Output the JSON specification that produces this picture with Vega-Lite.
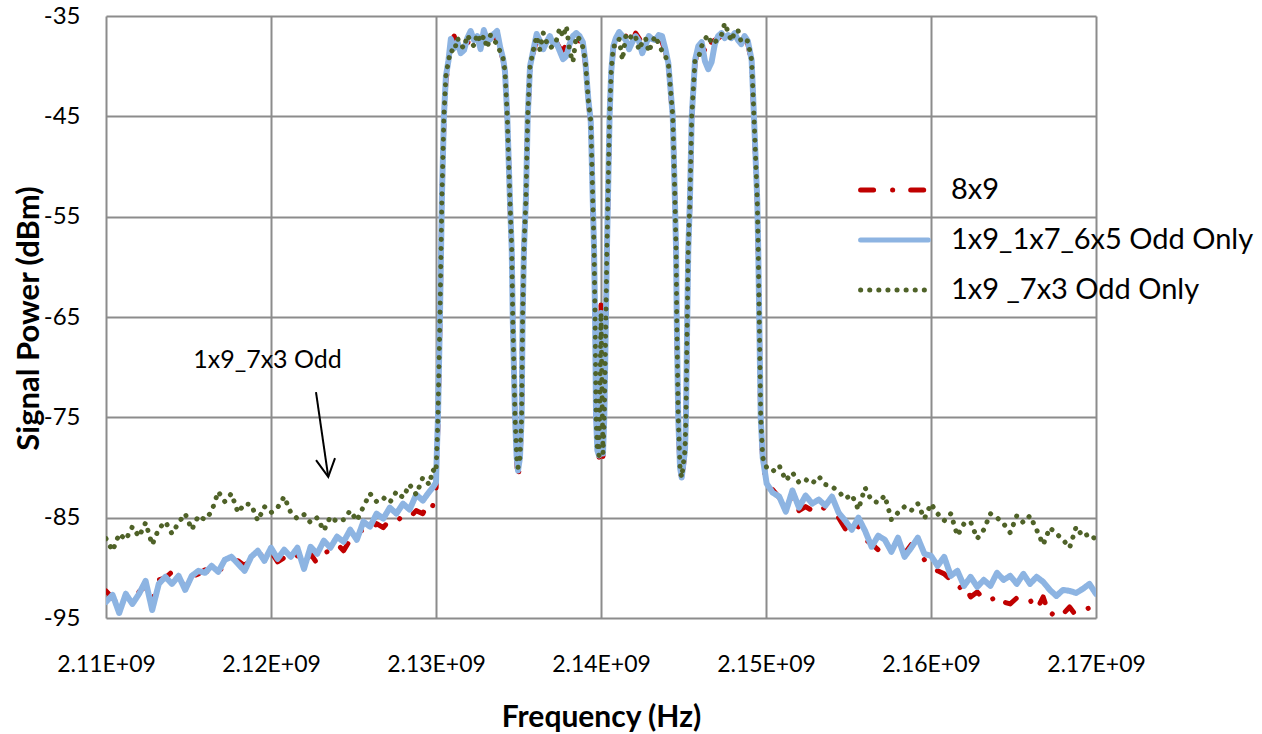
{
"$schema":"https://vega.github.io/schema/vega-lite/v6.json",
"width":990,"height":602,"autosize":"none",
"padding":{"left":106,"top":16,"right":166,"bottom":116},
"background":"white",
"config":{"view":{"stroke":null},"font":"Lato",
 "legend":{"symbolStrokeWidth":5,"symbolSize":4600,"labelFontSize":29,"labelFont":"Lato","labelColor":"black","labelLimit":0,"clipHeight":30,"rowPadding":20,"labelOffset":20,"padding":0,"symbolType":"stroke"}},
"datasets":{
"r":[
{"f":2.11e9,"p":-92.3},{"f":2.1104e9,"p":-93.0},{"f":2.1108e9,"p":-93.8},{"f":2.1112e9,"p":-92.9},{"f":2.1116e9,"p":-93.3},{"f":2.112e9,"p":-92.4},{"f":2.1124e9,"p":-91.8},{"f":2.1128e9,"p":-93.4},{"f":2.1132e9,"p":-91.2},{"f":2.1136e9,"p":-91.0},{"f":2.114e9,"p":-90.4},{"f":2.1144e9,"p":-91.2},{"f":2.1148e9,"p":-91.8},{"f":2.1152e9,"p":-90.9},{"f":2.1156e9,"p":-90.6},{"f":2.116e9,"p":-90.2},{"f":2.1164e9,"p":-90.9},{"f":2.1168e9,"p":-90.3},{"f":2.1172e9,"p":-89.9},{"f":2.1176e9,"p":-89.4},{"f":2.118e9,"p":-89.3},{"f":2.1184e9,"p":-89.8},{"f":2.1188e9,"p":-89.1},{"f":2.1192e9,"p":-88.5},{"f":2.1196e9,"p":-88.9},{"f":2.12e9,"p":-88.4},{"f":2.1204e9,"p":-89.4},{"f":2.1208e9,"p":-89.0},{"f":2.1212e9,"p":-89.5},{"f":2.1216e9,"p":-88.8},{"f":2.122e9,"p":-89.6},{"f":2.1224e9,"p":-88.6},{"f":2.1228e9,"p":-89.6},{"f":2.1232e9,"p":-88.6},{"f":2.1236e9,"p":-88.2},{"f":2.124e9,"p":-87.6},{"f":2.1244e9,"p":-88.3},{"f":2.1248e9,"p":-87.2},{"f":2.1252e9,"p":-86.5},{"f":2.1256e9,"p":-86.2},{"f":2.126e9,"p":-86.4},{"f":2.1264e9,"p":-85.6},{"f":2.1268e9,"p":-86.0},{"f":2.1272e9,"p":-85.2},{"f":2.1276e9,"p":-85.5},{"f":2.128e9,"p":-84.7},{"f":2.1284e9,"p":-85.0},{"f":2.1288e9,"p":-84.3},{"f":2.1292e9,"p":-84.6},{"f":2.1296e9,"p":-83.3},{"f":2.1298e9,"p":-83.8},{"f":2.13e9,"p":-82.5},
{"f":2.13006e9,"p":-78.5},{"f":2.13012e9,"p":-75.5},{"f":2.13024e9,"p":-65.5},{"f":2.13036e9,"p":-53.5},{"f":2.13048e9,"p":-45.5},{"f":2.1306e9,"p":-41.5},{"f":2.13075e9,"p":-39.7},
{"f":2.1309e9,"p":-37.8},{"f":2.1311e9,"p":-37.0},{"f":2.1313e9,"p":-38.0},{"f":2.1315e9,"p":-38.3},{"f":2.1317e9,"p":-37.5},{"f":2.1319e9,"p":-37.8},{"f":2.1321e9,"p":-36.9},{"f":2.1323e9,"p":-37.5},{"f":2.1325e9,"p":-37.3},{"f":2.1327e9,"p":-37.6},{"f":2.1329e9,"p":-37.1},{"f":2.1331e9,"p":-37.0},{"f":2.1333e9,"p":-37.8},{"f":2.1335e9,"p":-37.2},{"f":2.1337e9,"p":-37.3},{"f":2.1339e9,"p":-38.5},
{"f":2.13406e9,"p":-39.3},{"f":2.13418e9,"p":-40.6},{"f":2.13432e9,"p":-45.2},{"f":2.13448e9,"p":-53.5},{"f":2.13459e9,"p":-58.6},{"f":2.13465e9,"p":-65.3},{"f":2.13479e9,"p":-75.3},{"f":2.13489e9,"p":-79.4},{"f":2.13497e9,"p":-81.2},
{"f":2.13509e9,"p":-79.2},{"f":2.13519e9,"p":-75.2},{"f":2.13525e9,"p":-65.2},{"f":2.13533e9,"p":-58.5},{"f":2.13545e9,"p":-53.5},{"f":2.13556e9,"p":-45.2},{"f":2.1357e9,"p":-40.2},{"f":2.1359e9,"p":-38.6},
{"f":2.1361e9,"p":-37.4},{"f":2.1363e9,"p":-37.2},{"f":2.1365e9,"p":-37.9},{"f":2.1367e9,"p":-37.5},{"f":2.1369e9,"p":-37.3},{"f":2.1371e9,"p":-36.8},{"f":2.1373e9,"p":-37.6},{"f":2.1375e9,"p":-38.2},{"f":2.1377e9,"p":-38.4},{"f":2.1379e9,"p":-37.9},{"f":2.1381e9,"p":-37.6},{"f":2.1383e9,"p":-37.4},{"f":2.1385e9,"p":-37.2},{"f":2.1387e9,"p":-37.5},{"f":2.1389e9,"p":-38.0},
{"f":2.13905e9,"p":-39.7},{"f":2.13923e9,"p":-43.5},{"f":2.13938e9,"p":-45.7},{"f":2.1395e9,"p":-53.5},{"f":2.13958e9,"p":-58.5},{"f":2.13964e9,"p":-65.2},{"f":2.1397e9,"p":-75.2},{"f":2.13978e9,"p":-78.5},{"f":2.13988e9,"p":-79.0},
{"f":2.13994e9,"p":-71.5},{"f":2.14e9,"p":-63.8},{"f":2.14006e9,"p":-72.0},{"f":2.14012e9,"p":-78.9},
{"f":2.1402e9,"p":-75.2},{"f":2.1403e9,"p":-65.2},{"f":2.14036e9,"p":-58.5},{"f":2.14042e9,"p":-53.5},{"f":2.14052e9,"p":-45.2},{"f":2.14062e9,"p":-40.7},{"f":2.14075e9,"p":-38.2},
{"f":2.1409e9,"p":-37.5},{"f":2.1411e9,"p":-37.2},{"f":2.1413e9,"p":-37.4},{"f":2.1415e9,"p":-37.0},{"f":2.1417e9,"p":-37.9},{"f":2.1419e9,"p":-37.6},{"f":2.1421e9,"p":-36.7},{"f":2.1423e9,"p":-37.2},{"f":2.1425e9,"p":-37.8},{"f":2.1427e9,"p":-37.4},{"f":2.1429e9,"p":-37.6},{"f":2.1431e9,"p":-37.0},{"f":2.1433e9,"p":-36.8},{"f":2.1435e9,"p":-37.5},{"f":2.1437e9,"p":-37.6},{"f":2.1439e9,"p":-38.5},
{"f":2.14408e9,"p":-39.9},{"f":2.14435e9,"p":-45.2},{"f":2.14448e9,"p":-53.5},{"f":2.14455e9,"p":-58.5},{"f":2.14459e9,"p":-65.2},{"f":2.14468e9,"p":-75.2},{"f":2.14479e9,"p":-80.3},{"f":2.14489e9,"p":-81.3},
{"f":2.14509e9,"p":-78.5},{"f":2.14515e9,"p":-75.2},{"f":2.14523e9,"p":-65.2},{"f":2.14529e9,"p":-58.5},{"f":2.14539e9,"p":-53.5},{"f":2.1455e9,"p":-45.2},{"f":2.1457e9,"p":-39.6},
{"f":2.1459e9,"p":-38.2},{"f":2.1461e9,"p":-37.8},{"f":2.1463e9,"p":-38.5},{"f":2.1465e9,"p":-38.8},{"f":2.1467e9,"p":-37.6},{"f":2.1469e9,"p":-37.4},{"f":2.1471e9,"p":-37.2},{"f":2.1473e9,"p":-37.0},{"f":2.1475e9,"p":-36.8},{"f":2.1477e9,"p":-37.3},{"f":2.1479e9,"p":-37.5},{"f":2.1481e9,"p":-37.0},{"f":2.1483e9,"p":-37.6},{"f":2.1485e9,"p":-37.3},{"f":2.1487e9,"p":-37.2},{"f":2.1489e9,"p":-37.8},
{"f":2.14913e9,"p":-39.6},{"f":2.14927e9,"p":-45.2},{"f":2.14947e9,"p":-53.5},{"f":2.14953e9,"p":-58.5},{"f":2.14959e9,"p":-65.2},{"f":2.14968e9,"p":-75.2},{"f":2.1498e9,"p":-79.3},{"f":2.15004e9,"p":-82.0},
{"f":2.1504e9,"p":-82.2},{"f":2.1508e9,"p":-83.0},{"f":2.1512e9,"p":-83.8},{"f":2.1516e9,"p":-82.9},{"f":2.152e9,"p":-84.3},{"f":2.1524e9,"p":-83.9},{"f":2.1528e9,"p":-84.3},{"f":2.1532e9,"p":-83.6},{"f":2.1536e9,"p":-84.2},{"f":2.154e9,"p":-84.8},{"f":2.1544e9,"p":-85.0},{"f":2.1548e9,"p":-86.1},{"f":2.1552e9,"p":-86.7},{"f":2.1556e9,"p":-85.9},{"f":2.156e9,"p":-87.2},{"f":2.1564e9,"p":-87.6},{"f":2.1568e9,"p":-88.2},{"f":2.1572e9,"p":-87.4},{"f":2.1576e9,"p":-88.3},{"f":2.158e9,"p":-88.0},{"f":2.1584e9,"p":-88.6},{"f":2.1588e9,"p":-87.7},{"f":2.1592e9,"p":-88.5},{"f":2.1596e9,"p":-89.2},{"f":2.16e9,"p":-90.1},{"f":2.1604e9,"p":-90.3},{"f":2.1608e9,"p":-90.6},{"f":2.1612e9,"p":-91.2},{"f":2.1616e9,"p":-92.2},{"f":2.162e9,"p":-91.6},{"f":2.1624e9,"p":-92.9},{"f":2.1628e9,"p":-92.4},{"f":2.1632e9,"p":-93.1},{"f":2.1636e9,"p":-92.7},{"f":2.164e9,"p":-93.8},{"f":2.1644e9,"p":-93.4},{"f":2.1648e9,"p":-93.6},{"f":2.1652e9,"p":-93.0},{"f":2.1656e9,"p":-93.6},{"f":2.166e9,"p":-93.2},{"f":2.1664e9,"p":-94.2},{"f":2.1668e9,"p":-92.9},{"f":2.1672e9,"p":-94.9},{"f":2.1676e9,"p":-94.1},{"f":2.168e9,"p":-94.6},{"f":2.1684e9,"p":-93.9},{"f":2.1688e9,"p":-94.8},{"f":2.1692e9,"p":-94.2},{"f":2.1696e9,"p":-94.0},{"f":2.17e9,"p":-93.7}
],
"b":[
{"f":2.11e9,"p":-93.4},{"f":2.1104e9,"p":-92.7},{"f":2.1108e9,"p":-94.5},{"f":2.1112e9,"p":-92.6},{"f":2.1116e9,"p":-93.6},{"f":2.112e9,"p":-92.6},{"f":2.1124e9,"p":-91.3},{"f":2.1128e9,"p":-94.2},{"f":2.1132e9,"p":-91.6},{"f":2.1136e9,"p":-90.9},{"f":2.114e9,"p":-91.6},{"f":2.1144e9,"p":-90.8},{"f":2.1148e9,"p":-92.2},{"f":2.1152e9,"p":-90.8},{"f":2.1156e9,"p":-90.3},{"f":2.116e9,"p":-90.5},{"f":2.1164e9,"p":-89.8},{"f":2.1168e9,"p":-90.4},{"f":2.1172e9,"p":-89.2},{"f":2.1176e9,"p":-88.9},{"f":2.118e9,"p":-89.6},{"f":2.1184e9,"p":-90.3},{"f":2.1188e9,"p":-88.9},{"f":2.1192e9,"p":-88.3},{"f":2.1196e9,"p":-89.3},{"f":2.12e9,"p":-88.0},{"f":2.1204e9,"p":-89.1},{"f":2.1208e9,"p":-88.2},{"f":2.1212e9,"p":-88.9},{"f":2.1216e9,"p":-88.0},{"f":2.122e9,"p":-90.1},{"f":2.1224e9,"p":-87.9},{"f":2.1228e9,"p":-88.6},{"f":2.1232e9,"p":-87.3},{"f":2.1236e9,"p":-88.0},{"f":2.124e9,"p":-86.9},{"f":2.1244e9,"p":-87.4},{"f":2.1248e9,"p":-86.2},{"f":2.1252e9,"p":-87.2},{"f":2.1256e9,"p":-85.4},{"f":2.126e9,"p":-85.9},{"f":2.1264e9,"p":-84.6},{"f":2.1268e9,"p":-85.1},{"f":2.1272e9,"p":-84.0},{"f":2.1276e9,"p":-84.6},{"f":2.128e9,"p":-83.6},{"f":2.1284e9,"p":-84.2},{"f":2.1288e9,"p":-82.7},{"f":2.1292e9,"p":-83.3},{"f":2.1296e9,"p":-82.4},{"f":2.1298e9,"p":-82.0},{"f":2.13e9,"p":-81.5},
{"f":2.13006e9,"p":-78.0},{"f":2.13012e9,"p":-75.0},{"f":2.13024e9,"p":-65.0},{"f":2.13036e9,"p":-53.0},{"f":2.13048e9,"p":-45.0},{"f":2.1306e9,"p":-41.0},{"f":2.13075e9,"p":-39.5},
{"f":2.1309e9,"p":-37.3},{"f":2.1311e9,"p":-38.2},{"f":2.1313e9,"p":-37.6},{"f":2.1315e9,"p":-38.7},{"f":2.1317e9,"p":-38.4},{"f":2.1319e9,"p":-37.2},{"f":2.1321e9,"p":-36.5},{"f":2.1323e9,"p":-37.4},{"f":2.1325e9,"p":-37.0},{"f":2.1327e9,"p":-38.3},{"f":2.1329e9,"p":-36.4},{"f":2.1331e9,"p":-37.5},{"f":2.1333e9,"p":-37.3},{"f":2.1335e9,"p":-36.8},{"f":2.1337e9,"p":-36.5},{"f":2.1339e9,"p":-38.2},
{"f":2.13406e9,"p":-39.2},{"f":2.13418e9,"p":-40.5},{"f":2.13432e9,"p":-45.0},{"f":2.13448e9,"p":-53.3},{"f":2.13459e9,"p":-58.3},{"f":2.13465e9,"p":-65.0},{"f":2.13479e9,"p":-75.0},{"f":2.13489e9,"p":-79.0},{"f":2.13497e9,"p":-80.3},
{"f":2.13509e9,"p":-79.0},{"f":2.13519e9,"p":-75.0},{"f":2.13525e9,"p":-65.0},{"f":2.13533e9,"p":-58.3},{"f":2.13545e9,"p":-53.3},{"f":2.13556e9,"p":-45.0},{"f":2.1357e9,"p":-40.0},{"f":2.1359e9,"p":-38.4},
{"f":2.1361e9,"p":-36.8},{"f":2.1363e9,"p":-37.5},{"f":2.1365e9,"p":-38.3},{"f":2.1367e9,"p":-37.6},{"f":2.1369e9,"p":-37.0},{"f":2.1371e9,"p":-37.8},{"f":2.1373e9,"p":-37.7},{"f":2.1375e9,"p":-38.5},{"f":2.1377e9,"p":-39.3},{"f":2.1379e9,"p":-39.0},{"f":2.1381e9,"p":-37.8},{"f":2.1383e9,"p":-37.0},{"f":2.1385e9,"p":-36.7},{"f":2.1387e9,"p":-37.0},{"f":2.1389e9,"p":-37.6},
{"f":2.13905e9,"p":-39.5},{"f":2.13923e9,"p":-43.3},{"f":2.13938e9,"p":-45.5},{"f":2.1395e9,"p":-53.3},{"f":2.13958e9,"p":-58.3},{"f":2.13964e9,"p":-65.0},{"f":2.1397e9,"p":-75.0},{"f":2.13978e9,"p":-78.3},{"f":2.13988e9,"p":-78.8},
{"f":2.13994e9,"p":-72.0},{"f":2.14e9,"p":-64.6},{"f":2.14006e9,"p":-72.5},{"f":2.14012e9,"p":-78.6},
{"f":2.1402e9,"p":-75.0},{"f":2.1403e9,"p":-65.0},{"f":2.14036e9,"p":-58.3},{"f":2.14042e9,"p":-53.3},{"f":2.14052e9,"p":-45.0},{"f":2.14062e9,"p":-40.5},{"f":2.14075e9,"p":-38.0},
{"f":2.1409e9,"p":-37.2},{"f":2.1411e9,"p":-36.6},{"f":2.1413e9,"p":-37.0},{"f":2.1415e9,"p":-37.4},{"f":2.1417e9,"p":-38.3},{"f":2.1419e9,"p":-37.6},{"f":2.1421e9,"p":-37.0},{"f":2.1423e9,"p":-37.5},{"f":2.1425e9,"p":-38.7},{"f":2.1427e9,"p":-37.9},{"f":2.1429e9,"p":-37.0},{"f":2.1431e9,"p":-37.3},{"f":2.1433e9,"p":-37.4},{"f":2.1435e9,"p":-36.9},{"f":2.1437e9,"p":-37.0},{"f":2.1439e9,"p":-38.3},
{"f":2.14408e9,"p":-39.7},{"f":2.14435e9,"p":-45.0},{"f":2.14448e9,"p":-53.3},{"f":2.14455e9,"p":-58.3},{"f":2.14459e9,"p":-65.0},{"f":2.14468e9,"p":-75.0},{"f":2.14479e9,"p":-80.0},{"f":2.14489e9,"p":-81.0},
{"f":2.14509e9,"p":-78.3},{"f":2.14515e9,"p":-75.0},{"f":2.14523e9,"p":-65.0},{"f":2.14529e9,"p":-58.3},{"f":2.14539e9,"p":-53.3},{"f":2.1455e9,"p":-45.0},{"f":2.1457e9,"p":-39.4},
{"f":2.1459e9,"p":-38.0},{"f":2.1461e9,"p":-37.6},{"f":2.1463e9,"p":-39.5},{"f":2.1465e9,"p":-40.3},{"f":2.1467e9,"p":-39.6},{"f":2.1469e9,"p":-37.8},{"f":2.1471e9,"p":-37.0},{"f":2.1473e9,"p":-36.7},{"f":2.1475e9,"p":-37.2},{"f":2.1477e9,"p":-36.9},{"f":2.1479e9,"p":-37.2},{"f":2.1481e9,"p":-36.7},{"f":2.1483e9,"p":-37.4},{"f":2.1485e9,"p":-37.8},{"f":2.1487e9,"p":-37.0},{"f":2.1489e9,"p":-37.5},
{"f":2.14913e9,"p":-39.4},{"f":2.14927e9,"p":-45.0},{"f":2.14947e9,"p":-53.3},{"f":2.14953e9,"p":-58.3},{"f":2.14959e9,"p":-65.0},{"f":2.14968e9,"p":-75.0},{"f":2.1498e9,"p":-79.0},{"f":2.15004e9,"p":-81.6},
{"f":2.1504e9,"p":-82.5},{"f":2.1508e9,"p":-82.9},{"f":2.1512e9,"p":-84.4},{"f":2.1516e9,"p":-82.3},{"f":2.152e9,"p":-84.0},{"f":2.1524e9,"p":-82.8},{"f":2.1528e9,"p":-83.6},{"f":2.1532e9,"p":-83.2},{"f":2.1536e9,"p":-83.8},{"f":2.154e9,"p":-82.9},{"f":2.1544e9,"p":-84.5},{"f":2.1548e9,"p":-85.3},{"f":2.1552e9,"p":-86.2},{"f":2.1556e9,"p":-85.0},{"f":2.156e9,"p":-86.3},{"f":2.1564e9,"p":-87.9},{"f":2.1568e9,"p":-86.8},{"f":2.1572e9,"p":-87.2},{"f":2.1576e9,"p":-88.4},{"f":2.158e9,"p":-87.0},{"f":2.1584e9,"p":-88.9},{"f":2.1588e9,"p":-88.0},{"f":2.1592e9,"p":-87.0},{"f":2.1596e9,"p":-88.6},{"f":2.16e9,"p":-88.8},{"f":2.1604e9,"p":-89.8},{"f":2.1608e9,"p":-88.9},{"f":2.1612e9,"p":-90.8},{"f":2.1616e9,"p":-90.3},{"f":2.162e9,"p":-91.8},{"f":2.1624e9,"p":-90.9},{"f":2.1628e9,"p":-91.9},{"f":2.1632e9,"p":-91.2},{"f":2.1636e9,"p":-91.8},{"f":2.164e9,"p":-90.5},{"f":2.1644e9,"p":-91.2},{"f":2.1648e9,"p":-90.8},{"f":2.1652e9,"p":-91.6},{"f":2.1656e9,"p":-90.6},{"f":2.166e9,"p":-91.6},{"f":2.1664e9,"p":-90.9},{"f":2.1668e9,"p":-91.4},{"f":2.1672e9,"p":-92.2},{"f":2.1676e9,"p":-92.8},{"f":2.168e9,"p":-92.2},{"f":2.1684e9,"p":-92.3},{"f":2.1688e9,"p":-92.5},{"f":2.1692e9,"p":-92.1},{"f":2.1696e9,"p":-91.6},{"f":2.17e9,"p":-92.6}
],
"g":[
{"f":2.11e9,"p":-87.1},{"f":2.1104e9,"p":-88.3},{"f":2.1108e9,"p":-86.6},{"f":2.1112e9,"p":-87.2},{"f":2.1116e9,"p":-85.9},{"f":2.112e9,"p":-86.9},{"f":2.1124e9,"p":-85.5},{"f":2.1128e9,"p":-87.7},{"f":2.1132e9,"p":-86.1},{"f":2.1136e9,"p":-85.4},{"f":2.114e9,"p":-86.6},{"f":2.1144e9,"p":-85.5},{"f":2.1148e9,"p":-84.6},{"f":2.1152e9,"p":-86.2},{"f":2.1156e9,"p":-84.8},{"f":2.116e9,"p":-85.2},{"f":2.1164e9,"p":-84.4},{"f":2.1168e9,"p":-82.4},{"f":2.1172e9,"p":-83.4},{"f":2.1176e9,"p":-82.6},{"f":2.118e9,"p":-84.5},{"f":2.1184e9,"p":-83.6},{"f":2.1188e9,"p":-83.7},{"f":2.1192e9,"p":-85.3},{"f":2.1196e9,"p":-83.9},{"f":2.12e9,"p":-84.5},{"f":2.1204e9,"p":-84.0},{"f":2.1208e9,"p":-82.9},{"f":2.1212e9,"p":-84.5},{"f":2.1216e9,"p":-85.1},{"f":2.122e9,"p":-84.7},{"f":2.1224e9,"p":-85.5},{"f":2.1228e9,"p":-85.0},{"f":2.1232e9,"p":-86.3},{"f":2.1236e9,"p":-84.9},{"f":2.124e9,"p":-85.4},{"f":2.1244e9,"p":-85.2},{"f":2.1248e9,"p":-84.3},{"f":2.1252e9,"p":-85.3},{"f":2.1256e9,"p":-83.9},{"f":2.126e9,"p":-82.6},{"f":2.1264e9,"p":-83.4},{"f":2.1268e9,"p":-83.0},{"f":2.1272e9,"p":-83.5},{"f":2.1276e9,"p":-82.4},{"f":2.128e9,"p":-83.0},{"f":2.1284e9,"p":-81.7},{"f":2.1288e9,"p":-82.7},{"f":2.1292e9,"p":-81.0},{"f":2.1296e9,"p":-81.7},{"f":2.1298e9,"p":-80.2},{"f":2.13e9,"p":-80.5},
{"f":2.13006e9,"p":-78.0},{"f":2.13012e9,"p":-75.0},{"f":2.13024e9,"p":-65.0},{"f":2.13036e9,"p":-53.0},{"f":2.13048e9,"p":-45.0},{"f":2.1306e9,"p":-41.0},{"f":2.13075e9,"p":-39.5},
{"f":2.1309e9,"p":-38.4},{"f":2.1311e9,"p":-38.6},{"f":2.1313e9,"p":-37.2},{"f":2.1315e9,"p":-37.9},{"f":2.1317e9,"p":-38.2},{"f":2.1319e9,"p":-36.9},{"f":2.1321e9,"p":-37.5},{"f":2.1323e9,"p":-38.0},{"f":2.1325e9,"p":-36.8},{"f":2.1327e9,"p":-37.6},{"f":2.1329e9,"p":-37.0},{"f":2.1331e9,"p":-38.2},{"f":2.1333e9,"p":-36.9},{"f":2.1335e9,"p":-37.4},{"f":2.1337e9,"p":-37.8},{"f":2.1339e9,"p":-38.6},
{"f":2.13406e9,"p":-39.2},{"f":2.13418e9,"p":-40.5},{"f":2.13432e9,"p":-45.0},{"f":2.13448e9,"p":-53.3},{"f":2.13459e9,"p":-58.3},{"f":2.13465e9,"p":-65.0},{"f":2.13479e9,"p":-75.0},{"f":2.13489e9,"p":-79.0},{"f":2.13497e9,"p":-80.0},
{"f":2.13509e9,"p":-79.0},{"f":2.13519e9,"p":-75.0},{"f":2.13525e9,"p":-65.0},{"f":2.13533e9,"p":-58.3},{"f":2.13545e9,"p":-53.3},{"f":2.13556e9,"p":-45.0},{"f":2.1357e9,"p":-40.0},{"f":2.1359e9,"p":-38.4},
{"f":2.1361e9,"p":-37.0},{"f":2.1363e9,"p":-38.4},{"f":2.1365e9,"p":-36.7},{"f":2.1367e9,"p":-37.6},{"f":2.1369e9,"p":-38.2},{"f":2.1371e9,"p":-38.0},{"f":2.1373e9,"p":-37.4},{"f":2.1375e9,"p":-36.2},{"f":2.1377e9,"p":-37.1},{"f":2.1379e9,"p":-36.0},{"f":2.1381e9,"p":-38.5},{"f":2.1383e9,"p":-39.6},{"f":2.1385e9,"p":-37.0},{"f":2.1387e9,"p":-37.3},{"f":2.1389e9,"p":-38.1},
{"f":2.13905e9,"p":-39.5},{"f":2.13923e9,"p":-43.3},{"f":2.13938e9,"p":-45.5},{"f":2.1395e9,"p":-53.3},{"f":2.13958e9,"p":-58.3},{"f":2.13964e9,"p":-65.0},{"f":2.1397e9,"p":-75.0},{"f":2.13978e9,"p":-78.3},{"f":2.13988e9,"p":-78.8},
{"f":2.13994e9,"p":-72.0},{"f":2.14e9,"p":-64.6},{"f":2.14006e9,"p":-72.5},{"f":2.14012e9,"p":-78.6},
{"f":2.1402e9,"p":-75.0},{"f":2.1403e9,"p":-65.0},{"f":2.14036e9,"p":-58.3},{"f":2.14042e9,"p":-53.3},{"f":2.14052e9,"p":-45.0},{"f":2.14062e9,"p":-40.5},{"f":2.14075e9,"p":-38.0},
{"f":2.1409e9,"p":-38.0},{"f":2.1411e9,"p":-37.3},{"f":2.1413e9,"p":-39.4},{"f":2.1415e9,"p":-37.0},{"f":2.1417e9,"p":-37.4},{"f":2.1419e9,"p":-36.8},{"f":2.1421e9,"p":-37.1},{"f":2.1423e9,"p":-38.4},{"f":2.1425e9,"p":-37.6},{"f":2.1427e9,"p":-37.2},{"f":2.1429e9,"p":-38.6},{"f":2.1431e9,"p":-37.6},{"f":2.1433e9,"p":-37.0},{"f":2.1435e9,"p":-37.8},{"f":2.1437e9,"p":-38.5},{"f":2.1439e9,"p":-39.0},
{"f":2.14408e9,"p":-39.7},{"f":2.14435e9,"p":-45.0},{"f":2.14448e9,"p":-53.3},{"f":2.14455e9,"p":-58.3},{"f":2.14459e9,"p":-65.0},{"f":2.14468e9,"p":-75.0},{"f":2.14479e9,"p":-80.0},{"f":2.14489e9,"p":-81.0},
{"f":2.14509e9,"p":-78.3},{"f":2.14515e9,"p":-75.0},{"f":2.14523e9,"p":-65.0},{"f":2.14529e9,"p":-58.3},{"f":2.14539e9,"p":-53.3},{"f":2.1455e9,"p":-45.0},{"f":2.1457e9,"p":-39.4},
{"f":2.1459e9,"p":-39.2},{"f":2.1461e9,"p":-38.0},{"f":2.1463e9,"p":-37.3},{"f":2.1465e9,"p":-36.9},{"f":2.1467e9,"p":-37.8},{"f":2.1469e9,"p":-37.6},{"f":2.1471e9,"p":-37.3},{"f":2.1473e9,"p":-36.9},{"f":2.1475e9,"p":-35.7},{"f":2.1477e9,"p":-36.6},{"f":2.1479e9,"p":-37.5},{"f":2.1481e9,"p":-36.6},{"f":2.1483e9,"p":-36.4},{"f":2.1485e9,"p":-37.6},{"f":2.1487e9,"p":-37.4},{"f":2.1489e9,"p":-37.5},
{"f":2.14913e9,"p":-39.4},{"f":2.14927e9,"p":-45.0},{"f":2.14947e9,"p":-53.3},{"f":2.14953e9,"p":-58.3},{"f":2.14959e9,"p":-65.0},{"f":2.14968e9,"p":-75.0},{"f":2.1498e9,"p":-79.0},{"f":2.15004e9,"p":-80.0},
{"f":2.1504e9,"p":-80.4},{"f":2.1508e9,"p":-79.8},{"f":2.1512e9,"p":-81.3},{"f":2.1516e9,"p":-80.5},{"f":2.152e9,"p":-81.5},{"f":2.1524e9,"p":-81.2},{"f":2.1528e9,"p":-81.6},{"f":2.1532e9,"p":-80.9},{"f":2.1536e9,"p":-81.7},{"f":2.154e9,"p":-81.9},{"f":2.1544e9,"p":-82.4},{"f":2.1548e9,"p":-83.1},{"f":2.1552e9,"p":-82.7},{"f":2.1556e9,"p":-84.2},{"f":2.156e9,"p":-82.0},{"f":2.1564e9,"p":-83.3},{"f":2.1568e9,"p":-83.5},{"f":2.1572e9,"p":-82.8},{"f":2.1576e9,"p":-85.2},{"f":2.158e9,"p":-84.5},{"f":2.1584e9,"p":-83.9},{"f":2.1588e9,"p":-84.3},{"f":2.1592e9,"p":-83.6},{"f":2.1596e9,"p":-85.1},{"f":2.16e9,"p":-83.6},{"f":2.1604e9,"p":-84.6},{"f":2.1608e9,"p":-85.3},{"f":2.1612e9,"p":-84.6},{"f":2.1616e9,"p":-86.8},{"f":2.162e9,"p":-85.6},{"f":2.1624e9,"p":-85.4},{"f":2.1628e9,"p":-87.1},{"f":2.1632e9,"p":-86.2},{"f":2.1636e9,"p":-84.6},{"f":2.164e9,"p":-85.0},{"f":2.1644e9,"p":-85.6},{"f":2.1648e9,"p":-86.5},{"f":2.1652e9,"p":-84.8},{"f":2.1656e9,"p":-85.5},{"f":2.166e9,"p":-84.8},{"f":2.1664e9,"p":-86.2},{"f":2.1668e9,"p":-87.7},{"f":2.1672e9,"p":-86.0},{"f":2.1676e9,"p":-86.6},{"f":2.168e9,"p":-87.2},{"f":2.1684e9,"p":-88.0},{"f":2.1688e9,"p":-85.9},{"f":2.1692e9,"p":-86.9},{"f":2.1696e9,"p":-86.6},{"f":2.17e9,"p":-87.2}
],
"note":[{"f":2.11979e9,"p":-69.3,"t":"1x9_7x3 Odd"}],
"arrow":[{"f":2.122727e9,"p":-72.49,"f2":2.12347e9,"p2":-80.93}],
"head":[{"f":2.12273e9,"p":-79.27},{"f":2.12347e9,"p":-80.93},{"f":2.12388e9,"p":-79.07}]
},
"encoding":{
 "x":{"field":"f","type":"quantitative",
  "scale":{"domain":[2.11e9,2.17e9],"nice":false,"zero":false},
  "axis":{"values":[2.11e9,2.12e9,2.13e9,2.14e9,2.15e9,2.16e9,2.17e9],
   "labelExpr":"format(datum.value/1e9,'.2f')+'E+09'",
   "labelFontSize":23,"labelFont":"Lato","labelColor":"black","labelFlush":false,"labelOverlap":false,"labelBaseline":"alphabetic","labelPadding":53,
   "ticks":false,"tickSize":0,"domain":false,"grid":true,"gridColor":"#8c8c8c","gridWidth":2,
   "title":"Frequency (Hz)","titleFont":"Lato","titleFontSize":30,"titleFontWeight":"bold","titleColor":"black","titleX":495,"titleY":108,"titleBaseline":"alphabetic","titleAlign":"center"}},
 "y":{"field":"p","type":"quantitative",
  "scale":{"domain":[-95,-35],"nice":false,"zero":false},
  "axis":{"values":[-95,-85,-75,-65,-55,-45,-35],
   "labelExpr":"datum.value + ''",
   "labelFontSize":24,"labelFont":"Lato","labelColor":"black","labelPadding":26,"labelOverlap":false,
   "ticks":false,"tickSize":0,"domain":false,"grid":true,"gridColor":"#8c8c8c","gridWidth":2,
   "title":"Signal Power (dBm)","titleFont":"Lato","titleFontSize":31,"titleFontWeight":"bold","titleColor":"black","titleX":-68,"titleY":302,"titleAngle":-90,"titleBaseline":"alphabetic","titleAlign":"center"}}
},
"layer":[
 {"data":{"name":"r"},"mark":{"type":"line","strokeWidth":5,"strokeCap":"round","strokeJoin":"round","clip":true},
  "encoding":{
   "color":{"datum":"8x9","type":"nominal","scale":{"domain":["8x9","1x9_1x7_6x5 Odd Only","1x9 _7x3 Odd Only"],"range":["#C00000","#8DB4E2","#4F6228"]},
     "legend":{"title":null,"orient":"none","legendX":752,"legendY":159,"labelLimit":0,"encoding":{"symbols":{"strokeCap":{"value":"round"}}}}},
   "strokeDash":{"datum":"8x9","type":"nominal","scale":{"domain":["8x9","1x9_1x7_6x5 Odd Only","1x9 _7x3 Odd Only"],"range":[[13,19,0.1,18],[1,0],[0.1,9]]},
     "legend":{"title":null,"orient":"none","legendX":752,"legendY":159,"labelLimit":0,"encoding":{"symbols":{"strokeCap":{"value":"round"}}}}}}},
 {"data":{"name":"b"},"mark":{"type":"line","strokeWidth":6,"strokeCap":"round","strokeJoin":"round","clip":true},
  "encoding":{
   "color":{"datum":"1x9_1x7_6x5 Odd Only","type":"nominal"},
   "strokeDash":{"datum":"1x9_1x7_6x5 Odd Only","type":"nominal"}}},
 {"data":{"name":"g"},"mark":{"type":"line","strokeWidth":5,"strokeCap":"round","strokeJoin":"round","clip":true},
  "encoding":{
   "color":{"datum":"1x9 _7x3 Odd Only","type":"nominal"},
   "strokeDash":{"datum":"1x9 _7x3 Odd Only","type":"nominal"}}},
 {"data":{"name":"note"},"mark":{"type":"text","font":"Lato","fontSize":25,"color":"black","align":"center","baseline":"middle"},
  "encoding":{"text":{"field":"t"}}},
 {"data":{"name":"arrow"},"mark":{"type":"rule","color":"black","strokeWidth":2},
  "encoding":{"x2":{"field":"f2"},"y2":{"field":"p2"}}},
 {"data":{"name":"head"},"mark":{"type":"line","color":"black","strokeWidth":2},
  "encoding":{}}
]
}
